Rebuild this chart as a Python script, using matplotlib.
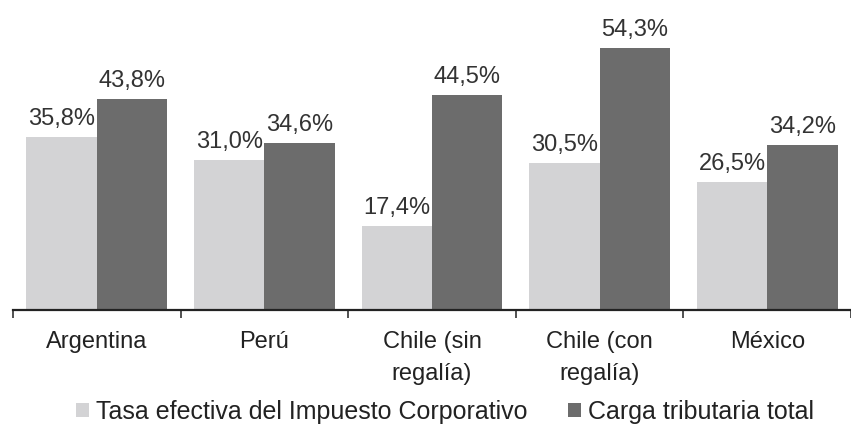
import numpy as np
import matplotlib
matplotlib.use("Agg")
import matplotlib.pyplot as plt

# datos
paises = ["Argentina", "Perú", "Chile (sin\nregalía)", "Chile (con\nregalía)", "México"]
tasa_efectiva = [35.8, 31.0, 17.4, 30.5, 26.5]
carga_total = [43.8, 34.6, 44.5, 54.3, 34.2]
series = ["Tasa efectiva del Impuesto Corporativo", "Carga tributaria total"]

plt.rcParams['font.family'] = ['Liberation Sans', 'DejaVu Sans']

fig = plt.figure(figsize=(8.51, 4.28), dpi=100)
ax = fig.add_axes([13 / 851, 1 - 310 / 428, 1 - 13 / 851, 310 / 428])

x = np.arange(len(paises))
ancho = 0.42
b1 = ax.bar(x - ancho / 2, tasa_efectiva, ancho, color="#d3d3d5", label=series[0])
b2 = ax.bar(x + ancho / 2, carga_total, ancho, color="#6c6c6c", label=series[1])

def etiqueta(v):
    return f"{v:.1f}%".replace(".", ",")

for barras, vals in [(b1, tasa_efectiva), (b2, carga_total)]:
    for b, v in zip(barras, vals):
        ax.annotate(etiqueta(v), (b.get_x() + b.get_width() / 2, v),
                    xytext=(0, 5), textcoords="offset points",
                    ha="center", va="bottom", fontsize=17, color="#333333")

ax.set_xlim(-0.5, 4.46)
ax.set_ylim(0, 64.2)

for s in ["top", "right", "left"]:
    ax.spines[s].set_visible(False)
ax.spines["bottom"].set_linewidth(1.6)
ax.spines["bottom"].set_color("#222222")
ax.set_yticks([])

ax.set_xticks(x)
ax.set_xticklabels(paises, fontsize=17, color="#222222", linespacing=1.6)
ax.tick_params(axis="x", which="major", length=0, pad=15)
ax.set_xticks(np.arange(-0.5, 5, 1), minor=True)
ax.tick_params(axis="x", which="minor", length=6, width=1.2, color="#333333", direction="out")

fig.legend(handles=[b1, b2], labels=series, loc="center",
           bbox_to_anchor=(445 / 851, 1 - 412 / 428), ncol=2, frameon=False,
           fontsize=18, handlelength=0.52, handleheight=0.52, handletextpad=0.28,
           columnspacing=1.6, labelcolor="#222222", borderpad=0, borderaxespad=0)

fig.savefig("out.png", dpi=100)
